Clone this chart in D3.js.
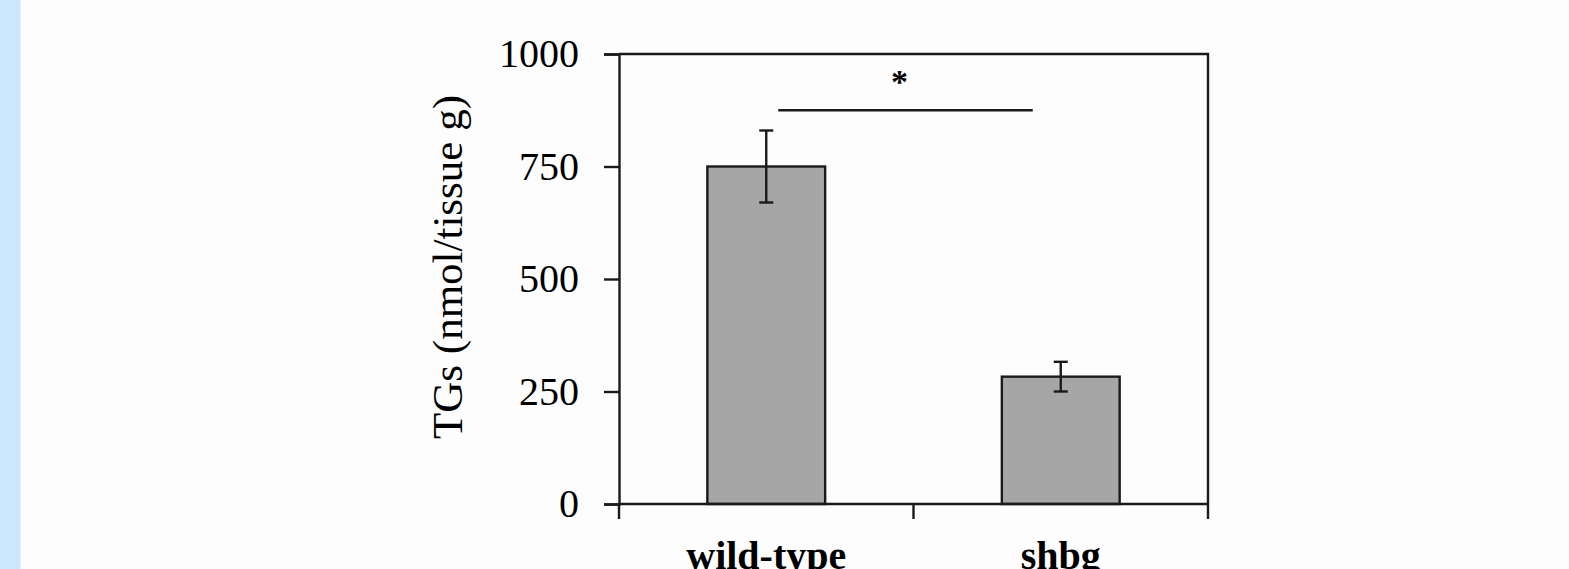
<!DOCTYPE html>
<html>
<head>
<meta charset="utf-8">
<script src="https://cdn.jsdelivr.net/npm/d3@7"></script>
<style>
  html, body { margin: 0; padding: 0; background: #fdfdfd; }
  svg { display: block; }
</style>
</head>
<body>
<svg id="chart" width="1569" height="569"></svg>
<script>
// Triglyceride content per genotype (mean ± error)
const categories = ["wild-type", "shbg"];
const means = [750, 283];
const errors = [80, 33];
const yTicks = [0, 250, 500, 750, 1000];
const significance = { from: "wild-type", to: "shbg", level: 875, label: "*" };
const yLabel = "TGs (nmol/tissue g)";

const svg = d3.select("#chart");
const W = 1569, H = 569;

// Light blue strip along the left edge
svg.append("rect").attr("x", 0).attr("y", 0).attr("width", 20).attr("height", H).attr("fill", "#cce6fe");
svg.append("rect").attr("x", 20).attr("y", 0).attr("width", 1).attr("height", H).attr("fill", "#e6f2fe");

const plot = { left: 619, right: 1208, top: 54, bottom: 504 };

const x = d3.scaleBand()
  .domain(categories)
  .range([plot.left, plot.right])
  .paddingInner(0.6)
  .paddingOuter(0.3);

const xGroup = d3.scaleBand().domain(categories).range([plot.left, plot.right]);

const y = d3.scaleLinear().domain([0, 1000]).range([plot.bottom, plot.top]);

const font = "'Liberation Serif', 'Times New Roman', serif";
const ink = "#1a1a1a";
const sw = 2.4;

// Bars
const data = categories.map((c, i) => ({ c, m: means[i], e: errors[i] }));
svg.append("g").selectAll("rect").data(data).join("rect")
  .attr("x", d => x(d.c))
  .attr("y", d => y(d.m))
  .attr("width", x.bandwidth())
  .attr("height", d => y(0) - y(d.m))
  .attr("fill", "#a6a6a6")
  .attr("stroke", ink)
  .attr("stroke-width", sw);

// Error bars
const eb = svg.append("g").attr("stroke", ink).attr("stroke-width", sw);
const cap = 7;
data.forEach(d => {
  const cx = x(d.c) + x.bandwidth() / 2;
  eb.append("line").attr("x1", cx).attr("x2", cx).attr("y1", y(d.m + d.e)).attr("y2", y(d.m - d.e));
  eb.append("line").attr("x1", cx - cap).attr("x2", cx + cap).attr("y1", y(d.m + d.e)).attr("y2", y(d.m + d.e));
  eb.append("line").attr("x1", cx - cap).attr("x2", cx + cap).attr("y1", y(d.m - d.e)).attr("y2", y(d.m - d.e));
});

// Frame (top and right edges)
svg.append("path")
  .attr("d", `M${plot.left},${plot.top}H${plot.right}V${plot.bottom}`)
  .attr("fill", "none").attr("stroke", ink).attr("stroke-width", sw);

// Y axis
const yAxis = svg.append("g")
  .attr("transform", `translate(${plot.left},0)`)
  .call(d3.axisLeft(y).tickValues(yTicks).tickSize(15).tickPadding(25).tickFormat(d3.format("d")));
yAxis.select(".domain").attr("stroke", ink).attr("stroke-width", sw);
yAxis.selectAll(".tick line").attr("stroke", ink).attr("stroke-width", sw);
yAxis.selectAll(".tick text")
  .attr("font-family", font).attr("font-size", 40).attr("fill", "#000")
  .attr("dy", "0.32em");

// X axis: ticks at category boundaries
const boundaries = [plot.left, ...categories.slice(1).map(c => xGroup(c)), plot.right];
const xAxisG = svg.append("g");
xAxisG.append("line")
  .attr("x1", plot.left).attr("x2", plot.right)
  .attr("y1", plot.bottom).attr("y2", plot.bottom)
  .attr("stroke", ink).attr("stroke-width", sw);
xAxisG.selectAll("line.tick").data(boundaries).join("line")
  .attr("class", "tick")
  .attr("x1", d => d).attr("x2", d => d)
  .attr("y1", plot.bottom).attr("y2", plot.bottom + 15)
  .attr("stroke", ink).attr("stroke-width", sw);
xAxisG.selectAll("text").data(categories).join("text")
  .attr("x", d => xGroup(d) + xGroup.bandwidth() / 2)
  .attr("y", 569)
  .attr("text-anchor", "middle")
  .attr("font-family", font).attr("font-size", 40).attr("font-weight", "bold")
  .attr("fill", "#000")
  .text(d => d);

// Y axis title
svg.append("text")
  .attr("transform", `translate(462,267) rotate(-90)`)
  .attr("text-anchor", "middle")
  .attr("font-family", font).attr("font-size", 43)
  .attr("fill", "#000")
  .text(yLabel);

// Significance bracket
const sx1 = x(significance.from) + x.bandwidth() / 2 + 12;
const sx2 = x(significance.to) + x.bandwidth() / 2 - 28;
svg.append("line")
  .attr("x1", sx1).attr("x2", sx2)
  .attr("y1", y(significance.level)).attr("y2", y(significance.level))
  .attr("stroke", ink).attr("stroke-width", sw);
svg.append("text")
  .attr("x", (sx1 + sx2) / 2 - 6)
  .attr("y", y(significance.level) - 17)
  .attr("text-anchor", "middle")
  .attr("font-family", font).attr("font-size", 34).attr("font-weight", "bold")
  .attr("fill", "#000")
  .text(significance.label);
</script>
</body>
</html>
